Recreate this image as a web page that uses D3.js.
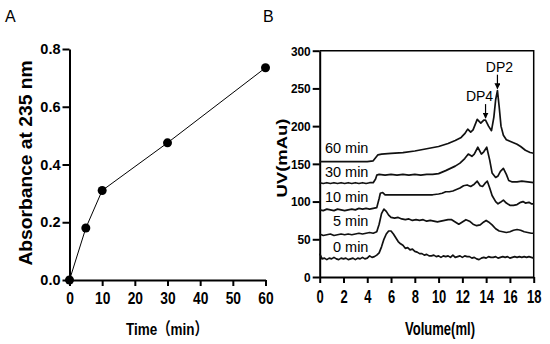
<!DOCTYPE html>
<html lang="en">
<head>
<meta charset="utf-8">
<title>Absorbance and UV traces</title>
<script src="https://d3js.org/d3.v7.min.js"></script>
<style>
  body { margin: 0; background: #fff; }
  svg { display: block; font-family: "Liberation Sans", Arial, "Noto Sans CJK SC", sans-serif; }
</style>
</head>
<body>
<svg id="chart" width="550" height="344"></svg>
<script>
// ---- panel A data ----
const timeMin = [0, 5, 10, 30, 60];
const absorbance = [0, 0.18, 0.31, 0.475, 0.735];
const timeTicks = [0, 10, 20, 30, 40, 50, 60];
const absTicks = [0, 0.2, 0.4, 0.6, 0.8];

// ---- panel B data: [volume ml, UV mAu] ----
const volTicks = [0, 2, 4, 6, 8, 10, 12, 14, 16, 18];
const uvTicks = [0, 50, 100, 150, 200, 250, 300];
const traceLabels = ["0 min", "5 min", "10 min", "30 min", "60 min"];
const labelUv = [33, 67, 100, 132, 164];

const trace0 = [[0,31],[0.2,24],[0.4,25],[0.6,23],[0.8,25],[1.0,24],[1.2,26],[1.4,24],[1.6,23],[1.8,25],[2.0,24],[2.2,25],[2.4,23],[2.6,24],[2.8,25],[3.0,23],[3.2,25],[3.4,24],[3.6,26],[3.8,24],[4.0,25],[4.2,28],[4.4,26],[4.6,27],[4.8,29],[5.0,32],[5.2,40],[5.4,50],[5.6,57],[5.8,61],[6.0,61],[6.2,57],[6.4,52],[6.6,47],[6.8,44],[7.0,42],[7.2,38],[7.4,39],[7.6,36],[7.8,37],[8.0,34],[8.2,33],[8.4,31],[8.6,31],[8.8,29],[9.0,30],[9.2,28],[9.4,28],[9.6,29],[9.8,27],[10.0,28],[10.2,26],[10.4,28],[10.6,27],[10.8,28],[11.0,26],[11.2,29],[11.4,26],[11.6,27],[11.8,28],[12.0,26],[12.2,28],[12.4,27],[12.6,27],[12.8,25],[13.0,26],[13.2,24],[13.4,23],[13.6,25],[13.8,26],[14.0,25],[14.2,27],[14.4,26],[14.6,26],[14.8,27],[15.0,25],[15.2,26],[15.4,27],[15.6,26],[15.8,27],[16.0,25],[16.2,26],[16.4,27],[16.6,26],[16.8,27],[17.0,26],[17.2,27],[17.4,26],[17.6,27],[17.8,26],[18.0,25]];
const trace5 = [[0,57],[0.3,55],[0.6,56],[0.9,57],[1.2,55],[1.5,56],[1.8,57],[2.1,56],[2.4,57],[2.7,56],[3.0,57],[3.3,58],[3.6,57],[3.9,58],[4.2,59],[4.5,58],[4.8,60],[5.0,70],[5.2,84],[5.4,90],[5.6,87],[5.8,82],[6.0,79],[6.3,78],[6.6,79],[6.9,77],[7.2,76],[7.5,77],[7.8,75],[8.1,76],[8.4,75],[8.7,76],[9.0,74],[9.3,75],[9.6,74],[9.9,73],[10.2,74],[10.5,75],[10.8,76],[11.1,76],[11.4,73],[11.7,70],[12.0,73],[12.3,76],[12.6,74],[12.9,70],[13.2,68],[13.5,69],[13.8,73],[14.0,75],[14.2,73],[14.5,69],[14.8,64],[15.1,61],[15.4,60],[15.7,59],[16.0,60],[16.3,62],[16.6,63],[16.9,62],[17.2,60],[17.5,59],[17.8,58],[18.0,58]];
const trace10 = [[0,89],[0.3,88],[0.6,90],[0.9,89],[1.2,88],[1.5,90],[1.8,89],[2.1,88],[2.4,89],[2.7,90],[3.0,89],[3.3,91],[3.6,90],[3.9,91],[4.2,90],[4.5,91],[4.8,92],[5.0,104],[5.1,111],[5.3,112],[5.5,109],[5.8,109],[6.5,109],[7.5,109],[8.5,109],[9.5,109],[10.0,110],[10.3,111],[10.6,113],[10.9,113],[11.2,114],[11.5,116],[11.8,118],[12.1,121],[12.4,122],[12.7,120],[13.0,123],[13.25,127],[13.5,121],[13.7,120],[13.9,124],[14.1,127],[14.3,118],[14.5,108],[14.8,100],[15.0,97],[15.2,99],[15.45,102],[15.7,98],[16.0,95],[16.3,95],[16.6,96],[16.9,99],[17.1,100],[17.3,98],[17.6,99],[17.8,97],[18.0,97]];
const trace30 = [[0,125],[0.3,124],[0.6,125],[0.9,124],[1.2,125],[1.5,124],[1.8,125],[2.1,124],[2.4,125],[2.7,124],[3.0,125],[3.3,124],[3.6,125],[3.9,124],[4.2,125],[4.5,125],[4.7,130],[4.8,135],[5.0,136],[5.5,135],[6.0,136],[6.5,135],[7.0,136],[7.5,135],[8.0,136],[8.5,135],[9.0,136],[9.5,136],[10.0,137],[10.3,139],[10.6,141],[11.0,144],[11.4,147],[11.8,151],[12.2,157],[12.5,163],[12.8,160],[13.0,163],[13.3,172],[13.6,163],[13.8,166],[14.05,172],[14.3,155],[14.5,138],[14.8,132],[15.0,134],[15.2,140],[15.45,144],[15.7,136],[15.9,128],[16.2,126],[16.6,126],[17.0,127],[17.5,126],[18.0,125]];
const trace60 = [[0,153],[1,153],[2,153],[3,153],[4,153],[4.5,154],[4.7,158],[4.9,162],[5.2,163],[6,164],[7,165],[8,167],[9,170],[10,173],[10.8,177],[11.4,181],[11.9,185],[12.2,190],[12.45,196],[12.7,192],[12.9,195],[13.25,209],[13.55,204],[13.8,208],[13.95,208],[14.2,200],[14.45,194],[14.65,212],[14.8,235],[14.95,247],[15.1,225],[15.25,200],[15.45,188],[15.7,182],[16.0,180],[16.3,178],[16.6,176],[16.9,173],[17.3,168],[17.7,165],[18.0,164]];
const traces = [trace0, trace5, trace10, trace30, trace60];

const peakNames = ["DP4", "DP2"];
const peakVol = [13.95, 14.95];
const peakUv = [208, 247];

const svg = d3.select("#chart");

// squeeze text horizontally to look like the condensed original
function squeeze(sel, k) {
  sel.each(function () {
    const w = this.getComputedTextLength();
    d3.select(this).attr("textLength", w * k).attr("lengthAdjust", "spacingAndGlyphs");
  });
}

// ================= panel A =================
const xA = d3.scaleLinear().domain([0, 60]).range([69.5, 265.5]);
const yA = d3.scaleLinear().domain([0, 0.8]).range([280, 49]);

const axAx = svg.append("g")
  .attr("transform", `translate(0,${yA(0)})`)
  .call(d3.axisBottom(xA).tickValues(timeTicks).tickSize(6).tickSizeOuter(0));
const axAy = svg.append("g")
  .attr("transform", `translate(${xA(0)},0)`)
  .call(d3.axisLeft(yA).tickValues(absTicks).tickSize(7).tickSizeOuter(0).tickFormat(d3.format(".1f")));

[axAx, axAy].forEach(g => {
  g.selectAll("path, line").attr("stroke", "#000").attr("stroke-width", 2);
  g.selectAll("text").attr("fill", "#000").attr("font-family", null).attr("font-weight", "bold");
});
axAx.selectAll("text").attr("font-size", 16).attr("y", 13).attr("dy", "0.71em");
squeeze(axAx.selectAll("text"), 0.86);
axAy.selectAll("text").attr("font-size", 14.5).attr("x", -9);

svg.append("path")
  .datum(timeMin.map((t, i) => [t, absorbance[i]]))
  .attr("fill", "none").attr("stroke", "#000").attr("stroke-width", 1)
  .attr("d", d3.line().x(d => xA(d[0])).y(d => yA(d[1])));

svg.append("g").selectAll("circle")
  .data(timeMin.map((t, i) => [t, absorbance[i]]))
  .join("circle")
  .attr("cx", d => xA(d[0])).attr("cy", d => yA(d[1])).attr("r", 4.5)
  .attr("fill", "#000");

svg.append("text").attr("transform", "translate(32,163) rotate(-90)")
  .attr("text-anchor", "middle").attr("font-size", 18).attr("font-weight", "bold")
  .attr("textLength", 205).attr("lengthAdjust", "spacingAndGlyphs")
  .text("Absorbance at 235 nm");

svg.append("text").attr("x", 167).attr("y", 335)
  .attr("text-anchor", "middle").attr("font-size", 17).attr("font-weight", "bold")
  .attr("textLength", 82).attr("lengthAdjust", "spacingAndGlyphs")
  .text("Time（min）");

svg.append("text").attr("x", 5).attr("y", 22).attr("font-size", 16).text("A");
svg.append("text").attr("x", 263).attr("y", 22).attr("font-size", 16).text("B");

// ================= panel B =================
const xB = d3.scaleLinear().domain([0, 18]).range([319.7, 533.7]);
const yB = d3.scaleLinear().domain([0, 300]).range([277, 50.7]);

// frame top and right
svg.append("path")
  .attr("d", `M${xB(0)},${yB(300)}H${xB(18)}V${yB(0)}`)
  .attr("fill", "none").attr("stroke", "#000").attr("stroke-width", 1.5);

const axBx = svg.append("g")
  .attr("transform", `translate(0,${yB(0)})`)
  .call(d3.axisBottom(xB).tickValues(volTicks).tickSize(6).tickSizeOuter(0));
const axBy = svg.append("g")
  .attr("transform", `translate(${xB(0)},0)`)
  .call(d3.axisLeft(yB).tickValues(uvTicks).tickSize(7).tickSizeOuter(0));

[axBx, axBy].forEach(g => {
  g.selectAll("path, line").attr("stroke", "#000").attr("stroke-width", 2);
  g.selectAll("text").attr("fill", "#000").attr("font-family", null).attr("font-weight", "bold");
});
axBx.selectAll("text").attr("font-size", 18).attr("y", 13).attr("dy", "0.71em");
squeeze(axBx.selectAll("text"), 0.72);
axBy.selectAll("text").attr("font-size", 13.5).attr("x", -9);
squeeze(axBy.selectAll("text"), 0.88);

const uvLine = d3.line().x(d => xB(d[0])).y(d => yB(d[1]));
svg.append("g").selectAll("path")
  .data(traces)
  .join("path")
  .attr("fill", "none").attr("stroke", "#111").attr("stroke-width", 1.7)
  .attr("stroke-linejoin", "round")
  .attr("d", uvLine);

svg.append("g").selectAll("text")
  .data(traceLabels)
  .join("text")
  .attr("x", xB(4.1)).attr("y", (d, i) => yB(labelUv[i]))
  .attr("text-anchor", "end").attr("font-size", 14.5)
  .text(d => d);

// peak arrows
svg.append("defs").append("marker")
  .attr("id", "arr").attr("viewBox", "0 0 10 10").attr("refX", 9).attr("refY", 5)
  .attr("markerWidth", 5).attr("markerHeight", 5).attr("orient", "auto")
  .append("path").attr("d", "M0,0L10,5L0,10Z").attr("fill", "#000");

const peaks = svg.append("g");
peakNames.forEach((name, i) => {
  const px = xB(peakVol[i]), py = yB(peakUv[i]);
  peaks.append("line")
    .attr("x1", px).attr("x2", px).attr("y1", py - 16).attr("y2", py - 2)
    .attr("stroke", "#000").attr("stroke-width", 1.2).attr("marker-end", "url(#arr)");
  peaks.append("text")
    .attr("x", px + (i === 0 ? -6 : 2)).attr("y", py - 19)
    .attr("text-anchor", "middle").attr("font-size", 14)
    .text(name);
});

svg.append("text").attr("transform", "translate(287,158) rotate(-90)")
  .attr("text-anchor", "middle").attr("font-size", 15).attr("font-weight", "bold")
  .attr("textLength", 79).attr("lengthAdjust", "spacingAndGlyphs")
  .text("UV(mAu)");

svg.append("text").attr("x", 440).attr("y", 335)
  .attr("text-anchor", "middle").attr("font-size", 18).attr("font-weight", "bold")
  .attr("textLength", 70).attr("lengthAdjust", "spacingAndGlyphs")
  .text("Volume(ml)");
</script>
</body>
</html>
